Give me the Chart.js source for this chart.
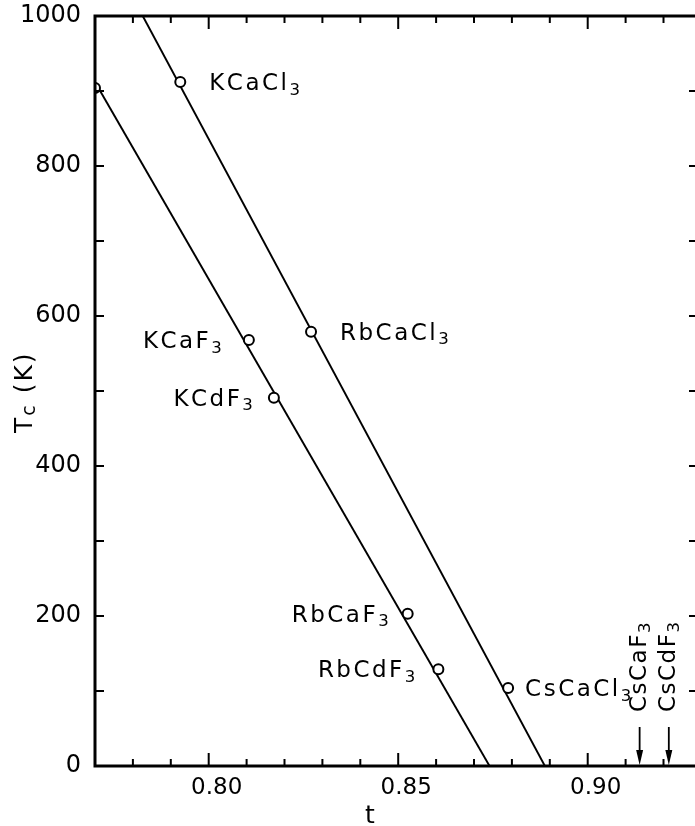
<!DOCTYPE html>
<html>
<head>
<meta charset="utf-8">
<script src="https://cdn.jsdelivr.net/npm/chart.js@4.4.1/dist/chart.umd.min.js"></script>
<style>
  html, body { margin: 0; padding: 0; background: #fff; overflow: hidden; }
  #wrap { width: 705px; height: 826px; }
</style>
</head>
<body>
<div id="wrap"><canvas id="tcChart" width="705" height="826"></canvas></div>
<script>
// axis ticks
const xTickValues = [0.80, 0.85, 0.90];
const xMinorTicks = [0.78, 0.79, 0.80, 0.81, 0.82, 0.83, 0.84, 0.85, 0.86, 0.87, 0.88, 0.89, 0.90, 0.91, 0.92];
const yTickValues = [0, 200, 400, 600, 800, 1000];
const yMinorTicks = [100, 200, 300, 400, 500, 600, 700, 800, 900];

// chlorides (upper line)
const chlorideNames = ["KCaCl3", "RbCaCl3", "CsCaCl3"];
const chlorideT = [0.7925, 0.8270, 0.8790];
const chlorideTc = [912, 579, 104];
const chlorideFitT = [0.7826, 0.8887];
const chlorideFitTc = [1000, 0];

// fluorides (lower line)
const fluorideNames = ["KCaF3", "KCdF3", "RbCaF3", "RbCdF3"];
const fluorideT = [0.8106, 0.8172, 0.8525, 0.8606];
const fluorideTc = [568, 491, 203, 129];
const fluorideFitT = [0.7700, 0.8741];
const fluorideFitTc = [912, 0];

// point sitting on the left frame
const edgeT = [0.7700];
const edgeTc = [904];

// compounds without a transition (arrows)
const arrowNames = ["CsCaF3", "CsCdF3"];
const arrowT = [0.9137, 0.9214];
const arrowTopTc = 52;

const FONT = "'DejaVu Sans', sans-serif";
const INK = "#000";

// label placement: side of the point and gap in px
const labelStyle = {
  KCaCl3: { side: "right", gap: 29 },
  RbCaCl3: { side: "right", gap: 29 },
  CsCaCl3: { side: "right", gap: 17 },
  KCaF3: { side: "left", gap: 27 },
  KCdF3: { side: "left", gap: 21 },
  RbCaF3: { side: "left", gap: 19 },
  RbCdF3: { side: "left", gap: 23 },
};

function zip(xs, ys) {
  return xs.map((x, i) => ({ x: x, y: ys[i] }));
}

function chemParts(name, size) {
  return name.match(/\d+|\D+/g).map((s) =>
    /\d/.test(s) ? { text: s, size: size * 0.72, dy: size * 0.2 } : { text: s, size: size, dy: 0 }
  );
}

function measureParts(ctx, parts, spacing) {
  let w = 0;
  parts.forEach((p) => {
    ctx.font = `${p.size}px ${FONT}`;
    for (const ch of p.text) w += ctx.measureText(ch).width + spacing;
  });
  return w - spacing;
}

function drawParts(ctx, parts, x, y, spacing) {
  let cx = x;
  parts.forEach((p) => {
    ctx.font = `${p.size}px ${FONT}`;
    for (const ch of p.text) {
      ctx.fillText(ch, cx, y + p.dy);
      cx += ctx.measureText(ch).width + spacing;
    }
  });
}

const decorPlugin = {
  id: "decor",
  afterDraw(chart) {
    const ctx = chart.ctx;
    const xs = chart.scales.x;
    const ys = chart.scales.y;
    const a = chart.chartArea;
    ctx.save();
    ctx.strokeStyle = INK;
    ctx.fillStyle = INK;

    // frame
    ctx.lineWidth = 3;
    ctx.strokeRect(a.left, a.top, a.right - a.left, a.bottom - a.top);

    // inward ticks
    ctx.lineWidth = 2;
    ctx.beginPath();
    xMinorTicks.forEach((v) => {
      const px = xs.getPixelForValue(v);
      const len = xTickValues.some((m) => Math.abs(m - v) < 1e-6) ? 13 : 7;
      ctx.moveTo(px, a.bottom);
      ctx.lineTo(px, a.bottom - len);
      ctx.moveTo(px, a.top);
      ctx.lineTo(px, a.top + len);
    });
    yMinorTicks.forEach((v) => {
      const py = ys.getPixelForValue(v);
      ctx.moveTo(a.left, py);
      ctx.lineTo(a.left + 9, py);
      ctx.moveTo(a.right, py);
      ctx.lineTo(a.right - 9, py);
    });
    ctx.stroke();

    // compound labels
    ctx.textBaseline = "alphabetic";
    const names = chlorideNames.concat(fluorideNames);
    const ts = chlorideT.concat(fluorideT);
    const tcs = chlorideTc.concat(fluorideTc);
    names.forEach((name, i) => {
      const px = xs.getPixelForValue(ts[i]);
      const py = ys.getPixelForValue(tcs[i]);
      const st = labelStyle[name];
      const parts = chemParts(name, 23);
      const w = measureParts(ctx, parts, 2.5);
      const x0 = st.side === "right" ? px + st.gap : px - st.gap - w;
      drawParts(ctx, parts, x0, py + 8, 2.5);
    });

    // arrows with vertical labels
    arrowNames.forEach((name, i) => {
      const px = xs.getPixelForValue(arrowT[i]);
      const yTop = ys.getPixelForValue(arrowTopTc);
      const yBot = ys.getPixelForValue(0);
      ctx.lineWidth = 1.8;
      ctx.beginPath();
      ctx.moveTo(px, yTop);
      ctx.lineTo(px, yBot - 8);
      ctx.stroke();
      ctx.beginPath();
      ctx.moveTo(px - 3.5, yBot - 16);
      ctx.lineTo(px + 3.5, yBot - 16);
      ctx.lineTo(px, yBot - 1);
      ctx.closePath();
      ctx.fill();

      ctx.save();
      ctx.translate(px + 6, yTop - 15);
      ctx.rotate(-Math.PI / 2);
      drawParts(ctx, chemParts(name, 23), 0, 0, 1.5);
      ctx.restore();
    });

    // axis titles
    ctx.save();
    ctx.translate(32, 433);
    ctx.rotate(-Math.PI / 2);
    drawParts(ctx, [
      { text: "T", size: 25, dy: 0 },
      { text: "c", size: 19, dy: 3 },
      { text: " (K)", size: 25, dy: 0 },
    ], 0, 0, 2);
    ctx.restore();

    ctx.font = `25px ${FONT}`;
    ctx.textAlign = "center";
    ctx.fillText("t", 370, 823);

    ctx.restore();
  },
};

const pointStyle = {
  order: 0,
  pointRadius: 5,
  pointBorderWidth: 2,
  pointBackgroundColor: "#fff",
  pointBorderColor: INK,
};

const ctx = document.getElementById("tcChart");
new Chart(ctx, {
  type: "scatter",
  data: {
    datasets: [
      { label: "chlorides", data: zip(chlorideT, chlorideTc), ...pointStyle },
      { label: "fluorides", data: zip(fluorideT, fluorideTc), ...pointStyle },
      { label: "edge", data: zip(edgeT, edgeTc), ...pointStyle },
      {
        label: "chloride fit",
        data: zip(chlorideFitT, chlorideFitTc),
        order: 1,
        showLine: true,
        pointRadius: 0,
        borderColor: INK,
        borderWidth: 1.9,
      },
      {
        label: "fluoride fit",
        data: zip(fluorideFitT, fluorideFitTc),
        order: 1,
        showLine: true,
        pointRadius: 0,
        borderColor: INK,
        borderWidth: 1.9,
      },
    ],
  },
  options: {
    responsive: false,
    animation: false,
    devicePixelRatio: 1,
    layout: { padding: { left: 0, top: 16, right: 7, bottom: 0 } },
    plugins: { legend: { display: false }, tooltip: { enabled: false } },
    scales: {
      x: {
        type: "linear",
        min: 0.77,
        max: 0.9291,
        grid: { display: false, drawTicks: false },
        border: { display: false },
        afterFit: (s) => { s.height = 60; s.paddingLeft = 0; s.paddingRight = 0; },
        afterBuildTicks: (s) => { s.ticks = xTickValues.map((v) => ({ value: v })); },
        ticks: {
          color: INK,
          font: { family: FONT, size: 23 },
          padding: 8,
          labelOffset: 8,
          maxRotation: 0,
          callback: (v) => Number(v).toFixed(2),
        },
      },
      y: {
        type: "linear",
        min: 0,
        max: 1000,
        grid: { display: false, drawTicks: false },
        border: { display: false },
        afterFit: (s) => { s.width = 95; s.paddingTop = 0; s.paddingBottom = 0; },
        afterBuildTicks: (s) => { s.ticks = yTickValues.map((v) => ({ value: v })); },
        ticks: {
          color: INK,
          font: { family: FONT, size: 24 },
          padding: 14,
          callback: (v) => String(v),
        },
      },
    },
  },
  plugins: [decorPlugin],
});
</script>
</body>
</html>
